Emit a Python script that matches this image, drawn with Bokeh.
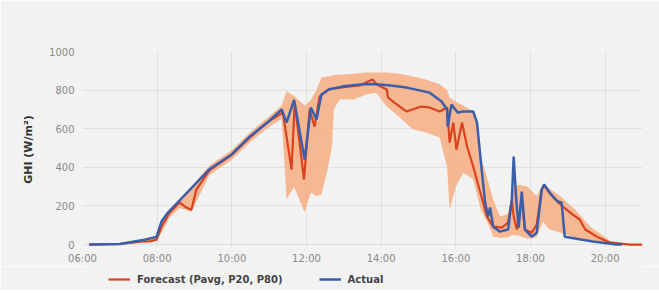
import pandas as pd
from bokeh.plotting import figure
from bokeh.layouts import column
from bokeh.models import (ColumnDataSource, FixedTicker, DatetimeTickFormatter,
                          Legend, LegendItem, Range1d)
from bokeh.embed import file_html
from bokeh.resources import INLINE

DAY = "2024-06-01 "

# Actual GHI (W/m²)
actual_time = ["06:11", "07:00", "07:40", "07:59", "08:07", "08:17", "09:24", "10:00", "10:29",
               "11:00", "11:20", "11:28", "11:40", "11:57", "12:07", "12:16", "12:24", "12:36",
               "13:00", "13:26", "13:46", "14:12", "14:41", "15:18", "15:37", "15:46", "15:47",
               "15:53", "16:03", "16:12", "16:28", "16:34", "16:42", "16:47", "16:52", "16:55",
               "17:00", "17:11", "17:24", "17:30", "17:33", "17:37", "17:41", "17:46", "17:51",
               "18:02", "18:10", "18:18", "18:22", "18:31", "18:36", "18:44", "18:50", "18:55",
               "19:40", "20:18", "20:27"]
actual_ghi = [0, 3, 25, 40, 120, 165, 390, 468, 560,
              640, 700, 632, 750, 440, 710, 648, 777, 803,
              820, 829, 832, 825, 813, 787, 741, 700, 611,
              725, 684, 689, 689, 632, 373, 218, 145, 192,
              93, 67, 78, 233, 456, 233, 88, 275, 78,
              41, 62, 285, 311, 269, 249, 223, 218, 41,
              16, 0, 0]

# Forecast Pavg
fc_time = ["06:11", "07:00", "07:36", "07:48", "07:59", "08:07", "08:20", "08:36", "08:47", "08:55",
           "09:03", "09:24", "10:00", "10:29", "11:00", "11:22", "11:36", "11:41", "11:56", "12:05",
           "12:13", "12:21", "12:36", "13:00", "13:26", "13:46", "13:53", "14:09", "14:11", "14:19",
           "14:30", "14:41", "14:50", "15:05", "15:18", "15:34", "15:46", "15:50", "15:56", "16:01",
           "16:10", "16:18", "16:28", "16:38", "16:50", "17:00", "17:14", "17:24", "17:30", "17:33",
           "17:38", "17:46", "17:51", "18:02", "18:10", "18:18", "18:22", "18:31", "18:44", "18:52",
           "19:08", "19:19", "19:28", "19:47", "20:08", "20:40", "21:00"]
fc_ghi = [0, 3, 16, 16, 26, 93, 165, 218, 192, 181,
          285, 385, 465, 555, 640, 684, 389, 735, 337, 700,
          611, 767, 805, 815, 825, 855, 829, 803, 762, 741,
          715, 689, 700, 715, 710, 689, 710, 528, 632, 492,
          632, 508, 404, 285, 145, 93, 88, 114, 233, 145,
          78, 233, 78, 62, 104, 285, 305, 265, 220, 197,
          155, 130, 78, 41, 10, 0, 0]

# Forecast band P20 / P80
band_time = ["06:11", "07:00", "07:40", "07:59", "08:07", "08:20", "08:36", "08:55", "09:24", "10:00",
             "10:29", "11:00", "11:20", "11:28", "11:40", "11:57", "12:07", "12:16", "12:24", "12:34",
             "12:41", "12:44", "12:53", "13:16", "13:36", "13:52", "14:09", "14:30", "14:51", "15:12",
             "15:34", "15:46", "15:50", "16:00", "16:12", "16:28", "16:36", "16:40", "16:51", "17:00",
             "17:11", "17:24", "17:33", "17:42", "17:55", "18:10", "18:20", "18:30", "18:48", "19:12",
             "19:36", "20:08", "20:40", "21:00"]
p20 = [0, 0, 10, 20, 60, 140, 190, 170, 360, 440,
       530, 610, 650, 233, 300, 166, 270, 250, 259, 389,
       508, 700, 751, 751, 777, 787, 715, 658, 596, 580,
       554, 400, 181, 300, 373, 337, 233, 180, 114, 41,
       36, 40, 50, 45, 30, 40, 120, 80, 62, 36,
       15, 5, 0, 0]
p80 = [0, 8, 30, 45, 125, 180, 235, 300, 410, 490,
       580, 665, 720, 795, 770, 720, 750, 800, 865, 870,
       875, 878, 880, 885, 891, 891, 891, 885, 870, 855,
       830, 800, 760, 740, 720, 689, 596, 456, 337, 233,
       145, 160, 300, 310, 300, 250, 315, 290, 250, 181,
       93, 20, 2, 0]

x_tick_labels = ["06:00", "08:00", "10:00", "12:00", "14:00", "16:00", "18:00", "20:00"]
y_ticks = [0, 200, 400, 600, 800, 1000]
legend_labels = ["Forecast (Pavg, P20, P80)", "Actual"]


def to_dt(ts):
    return pd.to_datetime([DAY + t for t in ts])


act = ColumnDataSource(dict(t=to_dt(actual_time), v=actual_ghi))
fc = ColumnDataSource(dict(t=to_dt(fc_time), v=fc_ghi))
band = ColumnDataSource(dict(t=to_dt(band_time), lo=p20, hi=p80))

BG = "#f2f2f2"
FONT = "DejaVu Sans"
RED = "#d9431e"
BLUE = "#3b5eab"

p = figure(frame_width=560, frame_height=196, x_axis_type="datetime", output_backend="svg",
           toolbar_location=None, min_border_left=82, min_border_top=51,
           min_border_right=17, min_border_bottom=0,
           x_range=(pd.Timestamp(DAY + "06:00"), pd.Timestamp(DAY + "21:00")),
           y_range=(-15, 1000))
p.background_fill_color = BG
p.border_fill_color = BG
p.outline_line_color = None

p.varea(x="t", y1="lo", y2="hi", source=band, fill_color="#f6b088", fill_alpha=0.9)
p.line(x="t", y="v", source=fc, line_color=RED, line_width=2.2)
p.line(x="t", y="v", source=act, line_color=BLUE, line_width=2.5)

xt = [pd.Timestamp(DAY + s).value // 10**6 for s in x_tick_labels]
p.xaxis.ticker = FixedTicker(ticks=xt)
p.xaxis.formatter = DatetimeTickFormatter(hours="%H:%M", minutes="%H:%M", hourmin="%H:%M", days="%H:%M")
p.yaxis.ticker = FixedTicker(ticks=y_ticks)

for ax in (p.xaxis[0], p.yaxis[0]):
    ax.axis_line_color = None
    ax.major_tick_line_color = None
    ax.minor_tick_line_color = None
    ax.major_tick_out = 0
    ax.major_tick_in = 0
    ax.minor_tick_out = 0
    ax.minor_tick_in = 0
    ax.major_label_text_color = "#8a8a8a"
    ax.major_label_text_font = FONT
    ax.major_label_text_font_size = "10px"
p.xaxis.major_label_standoff = 5
p.yaxis.major_label_standoff = 8
p.yaxis.axis_label = "GHI (W/m²)"
p.yaxis.axis_label_text_font = FONT
p.yaxis.axis_label_text_font_size = "11px"
p.yaxis.axis_label_text_font_style = "bold"
p.yaxis.axis_label_text_color = "#333333"
p.yaxis.axis_label_standoff = 11

p.xgrid.grid_line_color = "#e0e0e0"
p.ygrid.grid_line_color = "#e0e0e0"

# legend strip below the chart (series drawn again, outside its visible y range)
p2 = figure(width=659, height=24, output_backend="svg", toolbar_location=None,
            x_axis_location=None, y_axis_location=None,
            x_range=p.x_range, y_range=Range1d(-3, -2),
            min_border_left=0, min_border_right=0, min_border_top=0, min_border_bottom=0)
p2.background_fill_color = BG
p2.border_fill_color = BG
p2.outline_line_color = None
p2.grid.visible = False
l_fc = p2.line(x="t", y="v", source=fc, line_color=RED, line_width=2.2)
l_act = p2.line(x="t", y="v", source=act, line_color=BLUE, line_width=2.5)

legend = Legend(items=[LegendItem(label=legend_labels[0], renderers=[l_fc]),
                       LegendItem(label=legend_labels[1], renderers=[l_act])],
                orientation="horizontal", location=(26, 5))
legend.background_fill_alpha = 0
legend.border_line_color = None
legend.label_text_font = FONT
legend.label_text_font_size = "10px"
legend.label_text_font_style = "bold"
legend.label_text_color = "#444444"
legend.glyph_width = 22
legend.glyph_height = 12
legend.label_height = 12
legend.label_standoff = 7
legend.spacing = 36
legend.padding = 0
legend.margin = 0
p2.add_layout(legend)

layout = column(p, p2, spacing=0)
open("out.html", "w").write(file_html(layout, INLINE))
